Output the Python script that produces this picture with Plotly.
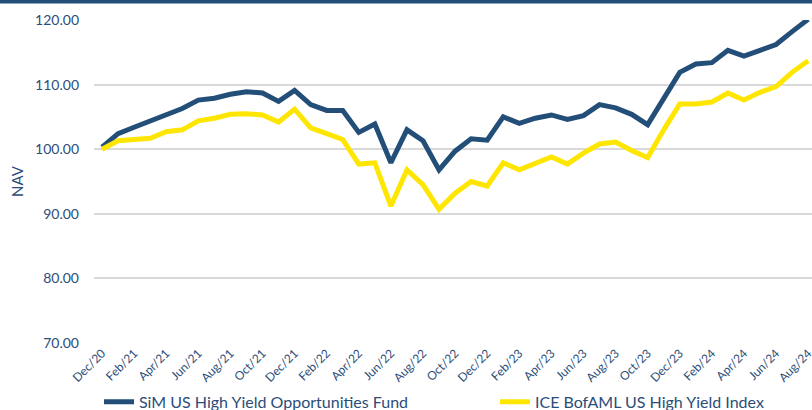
import plotly.graph_objects as go

months = ["Dec/20", "Jan/21", "Feb/21", "Mar/21", "Apr/21", "May/21", "Jun/21", "Jul/21",
          "Aug/21", "Sep/21", "Oct/21", "Nov/21", "Dec/21", "Jan/22", "Feb/22", "Mar/22",
          "Apr/22", "May/22", "Jun/22", "Jul/22", "Aug/22", "Sep/22", "Oct/22", "Nov/22",
          "Dec/22", "Jan/23", "Feb/23", "Mar/23", "Apr/23", "May/23", "Jun/23", "Jul/23",
          "Aug/23", "Sep/23", "Oct/23", "Nov/23", "Dec/23", "Jan/24", "Feb/24", "Mar/24",
          "Apr/24", "May/24", "Jun/24", "Jul/24", "Aug/24"]

fund = [100.3, 102.4, 103.4, 104.4, 105.3, 106.3, 107.6, 107.9, 108.5, 108.9,
        108.7, 107.4, 109.1, 106.9, 106.0, 106.0, 102.6, 103.9, 97.9, 103.0,
        101.3, 96.8, 99.7, 101.6, 101.4, 105.0, 104.0, 104.8, 105.3, 104.6,
        105.2, 106.9, 106.4, 105.4, 103.8, 108.0, 111.9, 113.2, 113.4, 115.3,
        114.4, 115.3, 116.2, 118.2, 120.1]

index = [100.0, 101.3, 101.5, 101.7, 102.7, 103.0, 104.4, 104.8, 105.4, 105.5,
         105.3, 104.2, 106.2, 103.3, 102.4, 101.5, 97.7, 97.9, 91.2, 96.8,
         94.5, 90.7, 93.2, 95.0, 94.3, 97.9, 96.8, 97.8, 98.8, 97.7,
         99.4, 100.8, 101.1, 99.8, 98.7, 103.0, 107.0, 107.0, 107.3, 108.7,
         107.6, 108.8, 109.7, 111.9, 113.7]

tick_labels = months[::2]
y_ticks = [70, 80, 90, 100, 110, 120]

BLUE = "#234e78"
YELLOW = "#ffe600"
TEXT = "#2b4d78"
GRID = "#d9d9d9"

fig = go.Figure()
fig.add_trace(go.Scatter(x=months, y=fund, mode="lines",
                         name="SiM US High Yield Opportunities Fund",
                         line=dict(color=BLUE, width=5), legend="legend"))
fig.add_trace(go.Scatter(x=months, y=index, mode="lines",
                         name="ICE BofAML US High Yield Index",
                         line=dict(color=YELLOW, width=5), legend="legend2"))

leg_common = dict(orientation="h", xref="container", yref="container",
                  xanchor="left", y=0.02, yanchor="middle",
                  font=dict(size=16, color=TEXT), bgcolor="rgba(0,0,0,0)",
                  borderwidth=0)

fig.update_layout(
    width=812, height=410,
    margin=dict(l=94, r=0, t=20, b=67, autoexpand=False),
    paper_bgcolor="white", plot_bgcolor="white",
    font=dict(family="Lato, Open Sans, sans-serif", color=TEXT),
    showlegend=True,
    legend=dict(x=99 / 812, **leg_common),
    legend2=dict(x=495 / 812, **leg_common),
    xaxis=dict(type="category", range=[-0.5, 44.24], tickvals=tick_labels,
               ticktext=tick_labels, tickangle=-45, showgrid=False,
               showline=False, zeroline=False, ticks="",
               tickfont=dict(size=12, color=TEXT)),
    yaxis=dict(range=[70, 120], tickvals=y_ticks,
               ticktext=[f"{v:.2f}" for v in y_ticks],
               showgrid=True, gridcolor=GRID, gridwidth=1.5, zeroline=False,
               showline=False, ticks="", ticklabelstandoff=14,
               tickfont=dict(size=14, color=TEXT),
               title=dict(text="NAV", font=dict(size=15, color=TEXT), standoff=7)),
    shapes=[dict(type="rect", xref="paper", yref="paper", x0=0 - 94 / 718, x1=1.0,
                 y0=1 + 16.5 / 323, y1=1 + 22 / 323, fillcolor=BLUE, line=dict(width=0),
                 layer="above")],
)

fig.write_html("out.html", config={"displayModeBar": False},
               post_script="document.body.style.margin='0';document.body.style.overflow='hidden';")
